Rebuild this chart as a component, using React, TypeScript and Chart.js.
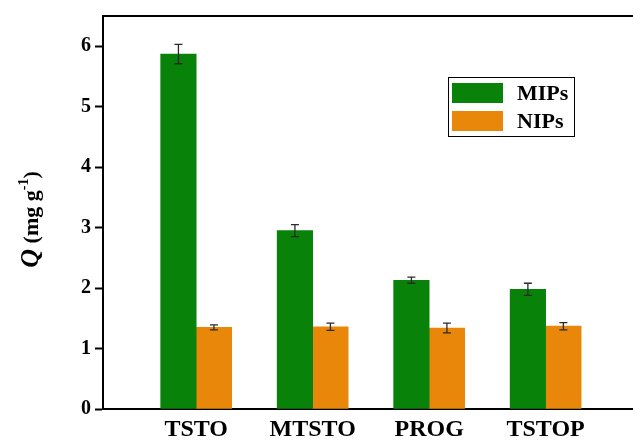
import React, { useEffect, useRef } from "react";
import { Chart, registerables } from "chart.js";

Chart.register(...registerables);

const categories = ["TSTO", "MTSTO", "PROG", "TSTOP"];
const mipsValues = [5.87, 2.95, 2.13, 1.98];
const mipsErrors = [0.16, 0.1, 0.05, 0.1];
const nipsValues = [1.35, 1.36, 1.34, 1.37];
const nipsErrors = [0.04, 0.06, 0.08, 0.06];
const seriesNames = ["MIPs", "NIPs"];
const yTicks = [0, 1, 2, 3, 4, 5, 6];

const GREEN = "rgb(8,130,8)";
const ORANGE = "rgb(232,135,10)";
const FONT = "'Liberation Serif', 'Times New Roman', serif";

const errorBarPlugin = {
  id: "errorBars",
  afterDatasetsDraw(chart: any) {
    const ctx = chart.ctx;
    const yScale = chart.scales.y;
    const errs = [mipsErrors, nipsErrors];
    ctx.save();
    ctx.strokeStyle = "#2a2a2a";
    ctx.lineWidth = 1.3;
    chart.data.datasets.forEach((ds: any, di: number) => {
      const meta = chart.getDatasetMeta(di);
      meta.data.forEach((bar: any, i: number) => {
        const v = ds.data[i].y;
        const e = errs[di][i];
        const x = bar.x;
        const yt = yScale.getPixelForValue(v + e);
        const yb = yScale.getPixelForValue(v - e);
        ctx.beginPath();
        ctx.moveTo(x, yt);
        ctx.lineTo(x, yb);
        ctx.moveTo(x - 4, yt);
        ctx.lineTo(x + 4, yt);
        ctx.moveTo(x - 4, yb);
        ctx.lineTo(x + 4, yb);
        ctx.stroke();
      });
    });
    ctx.restore();
  },
};

const framePlugin = {
  id: "frameAndLabels",
  afterDraw(chart: any) {
    const ctx = chart.ctx;
    const area = chart.chartArea;
    ctx.save();
    ctx.strokeStyle = "#000";
    ctx.lineWidth = 2;
    ctx.beginPath();
    ctx.moveTo(area.left - 1, area.top);
    ctx.lineTo(area.right, area.top);
    ctx.stroke();

    ctx.translate(30, (area.top + area.bottom) / 2 + 7);
    ctx.rotate(-Math.PI / 2);
    ctx.fillStyle = "#000";
    ctx.textBaseline = "alphabetic";
    const parts = [
      { t: "Q", f: `italic bold 26px ${FONT}`, dy: 0 },
      { t: " (mg g", f: `bold 22px ${FONT}`, dy: 0 },
      { t: "-1", f: `bold 14px ${FONT}`, dy: -10 },
      { t: ")", f: `bold 22px ${FONT}`, dy: 0 },
    ];
    let total = 0;
    const widths = parts.map((p) => {
      ctx.font = p.f;
      const w = ctx.measureText(p.t).width;
      total += w;
      return w;
    });
    let x = -total / 2;
    parts.forEach((p, i) => {
      ctx.font = p.f;
      ctx.fillText(p.t, x, 8 + p.dy);
      x += widths[i];
    });
    ctx.restore();

    ctx.save();
    const lx = 448, ly = 77, lw = 126, lh = 59;
    ctx.fillStyle = "#fff";
    ctx.fillRect(lx, ly, lw, lh);
    ctx.strokeStyle = "#000";
    ctx.lineWidth = 1;
    ctx.strokeRect(lx + 0.5, ly + 0.5, lw, lh);
    const colors = [GREEN, ORANGE];
    seriesNames.forEach((name, i) => {
      const sy = 83 + i * 28;
      ctx.fillStyle = colors[i];
      ctx.fillRect(452, sy, 51, 20);
      ctx.fillStyle = "#000";
      ctx.font = `bold 22px ${FONT}`;
      ctx.textBaseline = "middle";
      ctx.fillText(name, 517, sy + 11);
    });
    ctx.restore();
  },
};

export default function App() {
  const ref = useRef<HTMLCanvasElement | null>(null);

  useEffect(() => {
    if (!ref.current) return;
    const chart = new Chart(ref.current, {
      type: "bar",
      data: {
        datasets: [
          {
            label: seriesNames[0],
            data: categories.map((_, i) => ({ x: i, y: mipsValues[i] })),
            backgroundColor: GREEN,
            barThickness: 35.5,
          },
          {
            label: seriesNames[1],
            data: categories.map((_, i) => ({ x: i, y: nipsValues[i] })),
            backgroundColor: ORANGE,
            barThickness: 35.5,
          },
        ],
      },
      options: {
        responsive: false,
        animation: false,
        layout: { padding: { top: 16, right: 0, left: 0, bottom: 0 } },
        plugins: { legend: { display: false }, tooltip: { enabled: false } },
        scales: {
          x: {
            type: "linear",
            offset: false,
            min: -0.8,
            max: 3.75,
            grid: { display: false, drawTicks: false, offset: false },
            border: { color: "#000", width: 2 },
            afterBuildTicks: (scale: any) => {
              scale.ticks = categories.map((_, i) => ({ value: i }));
            },
            afterFit: (scale: any) => {
              scale.height = 32;
            },
            ticks: {
              autoSkip: false,
              maxRotation: 0,
              padding: 6,
              color: "#000",
              font: { family: FONT, size: 24, weight: "bold" },
              callback: (v: any) => categories[v as number] ?? "",
            },
          },
          y: {
            min: 0,
            max: 6.5,
            afterBuildTicks: (scale: any) => {
              scale.ticks = yTicks.map((v) => ({ value: v }));
            },
            afterFit: (scale: any) => {
              scale.width = 103;
            },
            grid: {
              drawOnChartArea: false,
              drawTicks: true,
              tickLength: 8,
              tickWidth: 2,
              tickColor: "#000",
            },
            border: { color: "#000", width: 2 },
            ticks: {
              padding: 4,
              color: "#000",
              font: { family: FONT, size: 20, weight: "bold" },
            },
          },
        },
      },
      plugins: [errorBarPlugin, framePlugin],
    } as any);
    return () => chart.destroy();
  }, []);

  return (
    <div style={{ position: "absolute", left: 0, top: 0, width: 633, height: 441, background: "#fff" }}>
      <canvas ref={ref} width={633} height={441} style={{ width: 633, height: 441 }} />
    </div>
  );
}
